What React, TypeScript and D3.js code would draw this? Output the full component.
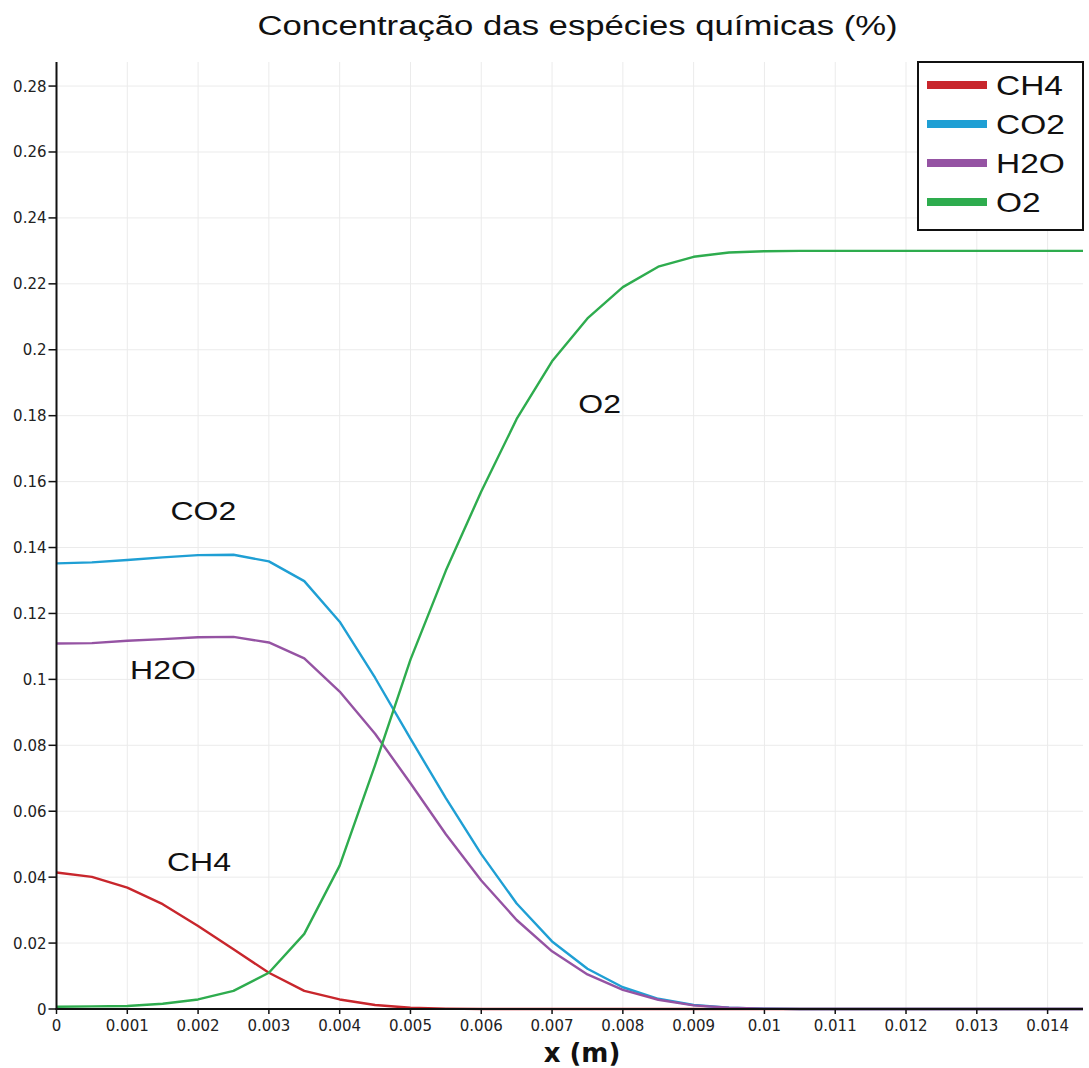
import React from "react";
import * as d3 from "d3";

// Axial position (m) of each sampled point
const xPositions = [
  0, 0.0005, 0.001, 0.0015, 0.002, 0.0025, 0.003, 0.0035, 0.004, 0.0045,
  0.005, 0.0055, 0.006, 0.0065, 0.007, 0.0075, 0.008, 0.0085, 0.009, 0.0095,
  0.01, 0.0105, 0.011, 0.0115, 0.012, 0.0125, 0.013, 0.0135, 0.014, 0.0145,
];

const ch4 = [
  0.0414, 0.0401, 0.0368, 0.0318, 0.0252, 0.0181, 0.011, 0.0055, 0.0029, 0.0012,
  0.0004, 0.0001, 0, 0, 0, 0, 0, 0, 0, 0,
  0, 0, 0, 0, 0, 0, 0, 0, 0, 0,
];

const co2 = [
  0.1352, 0.1355, 0.1362, 0.137, 0.1377, 0.1378, 0.1358, 0.1298, 0.1175, 0.1005,
  0.082, 0.064, 0.047, 0.032, 0.0205, 0.0122, 0.0066, 0.0031, 0.0012, 0.0004,
  0.0001, 0, 0, 0, 0, 0, 0, 0, 0, 0,
];

const h2o = [
  0.1109, 0.111, 0.1117, 0.1122, 0.1128, 0.1129, 0.1112, 0.1064, 0.0963, 0.0835,
  0.0685, 0.053, 0.039, 0.027, 0.0175, 0.0105, 0.0058, 0.0028, 0.0011, 0.0004,
  0.0001, 0, 0, 0, 0, 0, 0, 0, 0, 0,
];

const o2 = [
  0.0007, 0.0008, 0.0009, 0.0016, 0.0029, 0.0055, 0.011, 0.0228, 0.0435, 0.074,
  0.106, 0.133, 0.157, 0.179, 0.1965, 0.2095, 0.219, 0.2252, 0.2282, 0.2295,
  0.2299, 0.23, 0.23, 0.23, 0.23, 0.23, 0.23, 0.23, 0.23, 0.23,
];

const seriesNames = ["CH4", "CO2", "H2O", "O2"];
const seriesColors = ["#c8262c", "#1f9fd4", "#9553a3", "#2eac4e"];
const seriesValues = [ch4, co2, h2o, o2];

const xTicks = [
  0, 0.001, 0.002, 0.003, 0.004, 0.005, 0.006, 0.007, 0.008, 0.009, 0.01,
  0.011, 0.012, 0.013, 0.014,
];
const yTicks = [
  0, 0.02, 0.04, 0.06, 0.08, 0.1, 0.12, 0.14, 0.16, 0.18, 0.2, 0.22, 0.24,
  0.26, 0.28,
];

const titleText = "Concentração das espécies químicas (%)";
const xAxisLabel = "x (m)";

// In-plot curve labels: [text, x (m), y]
const curveLabels: [string, number, number][] = [
  ["CO2", 0.00161, 0.1484],
  ["H2O", 0.00104, 0.1002],
  ["CH4", 0.00156, 0.0418],
  ["O2", 0.00737, 0.1808],
];

const W = 1089;
const H = 1068;
const LEFT = 56.5;
const RIGHT = 1083;
const BOTTOM = 1009;
const TOP = 62;

const sansFont = "'Liberation Sans', Arial, sans-serif";
const tickFont = "'DejaVu Sans', sans-serif";

function fmt(v: number) {
  return String(+v.toFixed(3));
}

export default function App() {
  const x = d3.scaleLinear().domain([0, 0.0145]).range([LEFT, RIGHT]);
  const y = d3.scaleLinear().domain([0, 0.2873]).range([BOTTOM, TOP]);

  const line = (vals: number[]) =>
    d3
      .line<number>()
      .x((_, i) => x(xPositions[i]))
      .y((d) => y(d))(vals) || "";

  const drawOrder = [0, 1, 2, 3];
  const stretch = 1.28;

  return (
    <svg
      width={W}
      height={H}
      style={{ position: "absolute", left: 0, top: 0, display: "block", background: "#fff" }}
    >
      <rect x={0} y={0} width={W} height={H} fill="#fff" />

      {/* title */}
      <g transform={`translate(${(258 + 897) / 2},35) scale(1.24,1)`}>
        <text textAnchor="middle" fontFamily={sansFont} fontSize={28} fill="#111">
          {titleText}
        </text>
      </g>

      {/* grid */}
      <g stroke="#ebebeb" strokeWidth={1}>
        {xTicks.map((t) => (
          <line key={"gx" + t} x1={x(t)} x2={x(t)} y1={TOP} y2={BOTTOM} />
        ))}
        {yTicks.map((t) => (
          <line key={"gy" + t} x1={LEFT} x2={RIGHT} y1={y(t)} y2={y(t)} />
        ))}
      </g>

      {/* series */}
      <g fill="none" strokeWidth={2.4} strokeLinejoin="round">
        {drawOrder.map((i) => (
          <path key={seriesNames[i]} d={line(seriesValues[i])} stroke={seriesColors[i]} />
        ))}
      </g>

      {/* axes */}
      <g stroke="#111" strokeWidth={2}>
        <line x1={LEFT} x2={LEFT} y1={TOP} y2={BOTTOM + 1} />
        <line x1={LEFT - 1} x2={RIGHT} y1={BOTTOM} y2={BOTTOM} />
        {yTicks.map((t) => (
          <line key={"ty" + t} x1={LEFT - 8} x2={LEFT} y1={y(t)} y2={y(t)} strokeWidth={1.5} />
        ))}
        {xTicks.map((t) => (
          <line key={"tx" + t} x1={x(t)} x2={x(t)} y1={BOTTOM} y2={BOTTOM + 5} strokeWidth={1.5} />
        ))}
      </g>
      <g fontFamily={tickFont} fontSize={15} fill="#222">
        {yTicks.map((t) => (
          <text key={"ly" + t} x={LEFT - 10} y={y(t) + 5.5} textAnchor="end">
            {fmt(t)}
          </text>
        ))}
        {xTicks.map((t) => (
          <text key={"lx" + t} x={x(t)} y={BOTTOM + 22} textAnchor="middle">
            {fmt(t)}
          </text>
        ))}
      </g>
      <text
        x={582}
        y={1062}
        textAnchor="middle"
        fontFamily={tickFont}
        fontWeight="bold"
        fontSize={26}
        fill="#111"
      >
        {xAxisLabel}
      </text>

      {/* curve labels */}
      {curveLabels.map(([txt, lx, ly]) => (
        <g key={"cl" + txt} transform={`translate(${x(lx)},${y(ly)}) scale(${stretch},1)`}>
          <text fontFamily={sansFont} fontSize={25} fill="#111">
            {txt}
          </text>
        </g>
      ))}

      {/* legend */}
      <g>
        <rect x={918} y={62} width={165} height={168} fill="#fff" stroke="#111" strokeWidth={2} />
        {seriesNames.map((name, i) => {
          const cy = 85 + i * 39;
          return (
            <g key={"lg" + name}>
              <line x1={927} x2={987} y1={cy} y2={cy} stroke={seriesColors[i]} strokeWidth={8} />
              <g transform={`translate(996,${cy + 10}) scale(1.24,1)`}>
                <text fontFamily={sansFont} fontSize={27} fill="#111">
                  {name}
                </text>
              </g>
            </g>
          );
        })}
      </g>
    </svg>
  );
}
